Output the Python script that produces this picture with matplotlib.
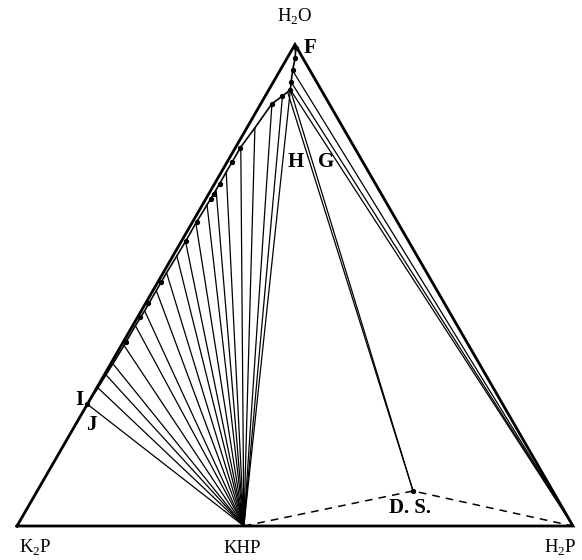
import numpy as np
import matplotlib
matplotlib.use("Agg")
import matplotlib.pyplot as plt

plt.rcParams['font.family'] = 'Liberation Serif'
plt.rcParams['mathtext.fontset'] = 'custom'
plt.rcParams['mathtext.rm'] = 'Liberation Serif'
plt.rcParams['mathtext.bf'] = 'Liberation Serif:bold'

# Composiciones en fraccion de peso: (agua, H2P); K2P es el resto
vertices = {'K2P': (0.0, 0.0), 'H2P': (0.0, 1.0), 'H2O': (1.0, 0.0)}
khp = (0.0, 0.408)
ds = (0.0727, 0.676)

# extremos de las rectas de reparto que van a KHP (rama del lado K2P)
fan_w = [0.253, 0.287, 0.314, 0.337, 0.375, 0.416, 0.447, 0.489, 0.526,
         0.561, 0.591, 0.629, 0.667, 0.698, 0.735, 0.787, 0.827, 0.877,
         0.893, 0.906]
fan_h = [0.000, 0.002, 0.003, 0.004, 0.005, 0.005, 0.006, 0.006, 0.006,
         0.007, 0.0076, 0.0072, 0.0083, 0.009, 0.0088, 0.009, 0.0144, 0.020,
         0.031, 0.0387]

# rama superior de la curva, del punto invariante hasta F
upper_w = [0.922, 0.946, 0.972, 0.993]
upper_h = [0.032, 0.0227, 0.0142, 0.0049]

# puntos experimentales
dot_w = [0.253, 0.383, 0.434, 0.463, 0.507, 0.591, 0.631, 0.679, 0.690,
         0.710, 0.756, 0.785, 0.877, 0.893, 0.906, 0.922, 0.946, 0.972, 0.993]
dot_h = [0.000, 0.0054, 0.005, 0.005, 0.0058, 0.0076, 0.0074, 0.0092, 0.0085,
         0.0097, 0.0094, 0.0092, 0.021, 0.031, 0.0387, 0.032, 0.0227, 0.0142,
         0.0049]

# rectas de reparto hacia H2P y hacia la sal doble
h2p_tie_w = [0.906, 0.922, 0.946]
h2p_tie_h = [0.0387, 0.032, 0.0227]
ds_tie_w = [0.906, 0.9014]
ds_tie_h = [0.0387, 0.036]


def tern(w, h):
    w = np.asarray(w, dtype=float)
    h = np.asarray(h, dtype=float)
    return h + w / 2, w * np.sqrt(3) / 2


fig = plt.figure(figsize=(5.82, 5.60), dpi=100)
ax = fig.add_axes([0, 0, 1, 1])
ax.set_xlim(-17 / 556, 565 / 556)
ax.set_ylim(-34 / 556, 526 / 556)
ax.axis('off')

# triangulo
tw = [vertices[k][0] for k in ('K2P', 'H2P', 'H2O', 'K2P')]
th = [vertices[k][1] for k in ('K2P', 'H2P', 'H2O', 'K2P')]
x, y = tern(tw, th)
ax.plot(x, y, color='black', lw=2.0, solid_joinstyle='miter')

kx, ky = tern(*khp)
dx, dy = tern(*ds)
hx, hy = tern(*vertices['H2P'])

# abanico de rectas de reparto hacia KHP
fx, fy = tern(fan_w, fan_h)
for a, b in zip(fx, fy):
    ax.plot([a, kx], [b, ky], color='black', lw=0.9)

for a, b in zip(*tern(h2p_tie_w, h2p_tie_h)):
    ax.plot([a, hx], [b, hy], color='black', lw=0.9)

for a, b in zip(*tern(ds_tie_w, ds_tie_h)):
    ax.plot([a, dx], [b, dy], color='black', lw=0.9)

# curva de solubilidad
cx, cy = tern(fan_w + upper_w, fan_h + upper_h)
ax.plot(cx, cy, color='black', lw=1.2)
ax.plot(*tern(dot_w, dot_h), 'o', color='black', ms=2.8)

# lineas de trazos KHP - D.S. - H2P
ax.plot([kx, dx, hx], [ky, dy, hy], color='black', lw=1.1,
        linestyle=(0, (5, 4)))
ax.plot(dx, dy, 'o', color='black', ms=2.8)

vfont = dict(fontsize=13.5, ha='center', va='center')
ax.annotate(r'H$_\mathrm{2}$O', tern(*vertices['H2O']), xytext=(0, 20),
            textcoords='offset points', **vfont)
ax.annotate(r'K$_\mathrm{2}$P', tern(*vertices['K2P']), xytext=(13, -16),
            textcoords='offset points', **vfont)
ax.annotate('KHP', (kx, ky), xytext=(-1, -16),
            textcoords='offset points', **vfont)
ax.annotate(r'H$_\mathrm{2}$P', (hx, hy), xytext=(-9, -16),
            textcoords='offset points', **vfont)

lfont = dict(fontsize=15, fontweight='bold', ha='center', va='center')
ax.annotate('F', tern(0.993, 0.0049), xytext=(10, 0),
            textcoords='offset points', **lfont)
ax.annotate('I', tern(0.253, 0.0), xytext=(-6, 3),
            textcoords='offset points', **lfont)
ax.annotate('J', tern(0.253, 0.0), xytext=(3, -15),
            textcoords='offset points', **lfont)
ax.annotate('D. S.', (dx, dy), xytext=(-2, -12),
            textcoords='offset points', **lfont)
ax.text(*tern(0.756, 0.124), 'H', **lfont)
ax.text(*tern(0.756, 0.178), 'G', **lfont)

fig.savefig('out.png', dpi=100)
